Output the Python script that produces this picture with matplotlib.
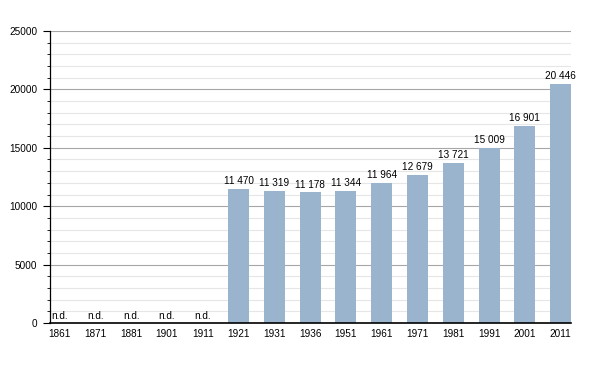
import matplotlib
matplotlib.use("Agg")
import matplotlib.pyplot as plt
from matplotlib.ticker import MultipleLocator

# dati del censimento
anni = ["1861", "1871", "1881", "1901", "1911", "1921", "1931", "1936",
        "1951", "1961", "1971", "1981", "1991", "2001", "2011"]
abitanti = [None, None, None, None, None, 11470, 11319, 11178,
            11344, 11964, 12679, 13721, 15009, 16901, 20446]

plt.rcParams["font.family"] = ["Liberation Sans", "DejaVu Sans"]

fig = plt.figure(figsize=(6, 3.73), dpi=100)
ax = fig.add_axes([50 / 600, 50 / 373, 521 / 600, 292 / 373])

pos = list(range(len(anni)))
valori = [v if v is not None else 0 for v in abitanti]
ax.bar(pos, valori, width=0.59, color="#9bb4cd", zorder=2)

for x, v in zip(pos, abitanti):
    if v is None:
        ax.text(x, 150, "n.d.", ha="center", va="bottom", fontsize=7.2)
    else:
        testo = f"{v:,}".replace(",", " ")
        ax.text(x, v + 250, testo, ha="center", va="bottom", fontsize=7.2)

ax.set_xlim(-0.27, 14.29)
ax.set_ylim(0, 25000)
ax.set_xticks(pos)
ax.set_xticklabels(anni, fontsize=7.2)
ax.tick_params(axis="x", length=0, pad=4)

ax.yaxis.set_major_locator(MultipleLocator(5000))
ax.yaxis.set_minor_locator(MultipleLocator(1000))
ax.tick_params(axis="y", which="major", length=5, width=0.8, labelsize=7.2, pad=4)
ax.tick_params(axis="y", which="minor", length=2.5, width=0.6)
ax.grid(axis="y", which="major", color="#a6a6a6", linewidth=0.8, zorder=0)
ax.grid(axis="y", which="minor", color="#e6e6e6", linewidth=0.8, zorder=0)
ax.set_axisbelow(True)

for lato in ["top", "right"]:
    ax.spines[lato].set_visible(False)
ax.spines["left"].set_linewidth(0.9)
ax.spines["bottom"].set_linewidth(1.2)

fig.savefig("out.png", dpi=100)
